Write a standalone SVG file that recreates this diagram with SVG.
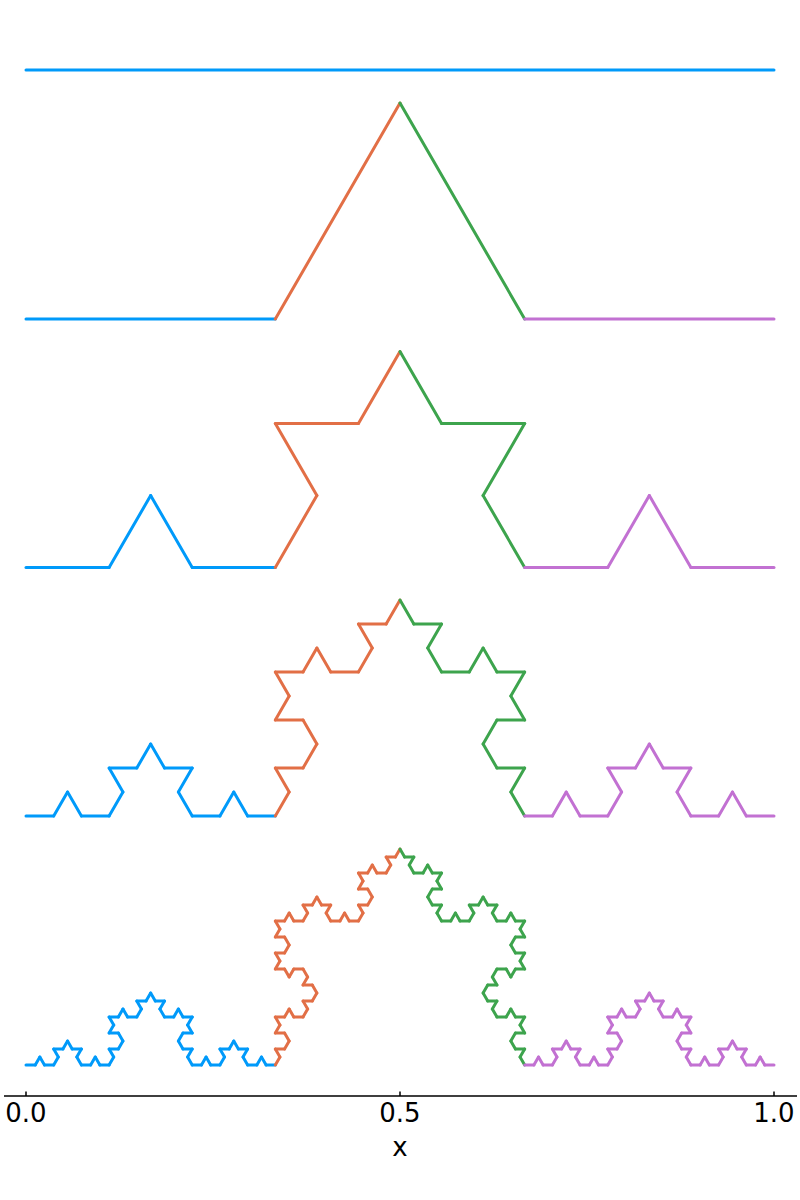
<svg xmlns="http://www.w3.org/2000/svg" xmlns:xlink="http://www.w3.org/1999/xlink" width="800" height="1200" viewBox="0 0 800 1200">
<style>
.k{fill:none;stroke-width:3;stroke-linecap:round;stroke-linejoin:round}
.b{stroke:#009AFA}.o{stroke:#E26F46}.g{stroke:#3DA44D}.p{stroke:#C271D2}
.axis{stroke:#000;stroke-width:1.5;fill:none}
text{font-family:"DejaVu Sans","Liberation Sans",sans-serif;fill:#000}
</style>
<defs>
<g id="k0"><path d="M0 0 L748 0" fill="none" vector-effect="non-scaling-stroke"/></g>
<g id="k1">
<use xlink:href="#k0" href="#k0" transform="scale(0.333333)"/>
<use xlink:href="#k0" href="#k0" transform="translate(249.3333,0) rotate(-60) scale(0.333333)"/>
<use xlink:href="#k0" href="#k0" transform="translate(374,-215.929) rotate(60) scale(0.333333)"/>
<use xlink:href="#k0" href="#k0" transform="translate(498.6667,0) scale(0.333333)"/>
</g>
<g id="k2">
<use href="#k1" transform="scale(0.333333)"/>
<use href="#k1" transform="translate(249.3333,0) rotate(-60) scale(0.333333)"/>
<use href="#k1" transform="translate(374,-215.929) rotate(60) scale(0.333333)"/>
<use href="#k1" transform="translate(498.6667,0) scale(0.333333)"/>
</g>
<g id="k3">
<use href="#k2" transform="scale(0.333333)"/>
<use href="#k2" transform="translate(249.3333,0) rotate(-60) scale(0.333333)"/>
<use href="#k2" transform="translate(374,-215.929) rotate(60) scale(0.333333)"/>
<use href="#k2" transform="translate(498.6667,0) scale(0.333333)"/>
</g>
</defs>
<g id="level0" class="k" transform="translate(26,70)">
<use href="#k0" class="b"/>
</g>
<g id="level1" class="k" transform="translate(26,319)">
<use href="#k0" class="b" transform="scale(0.333333)"/>
<use href="#k0" class="o" transform="translate(249.3333,0) rotate(-60) scale(0.333333)"/>
<use href="#k0" class="g" transform="translate(374,-215.929) rotate(60) scale(0.333333)"/>
<use href="#k0" class="p" transform="translate(498.6667,0) scale(0.333333)"/>
</g>
<g id="level2" class="k" transform="translate(26,567.5)">
<use href="#k1" class="b" transform="scale(0.333333)"/>
<use href="#k1" class="o" transform="translate(249.3333,0) rotate(-60) scale(0.333333)"/>
<use href="#k1" class="g" transform="translate(374,-215.929) rotate(60) scale(0.333333)"/>
<use href="#k1" class="p" transform="translate(498.6667,0) scale(0.333333)"/>
</g>
<g id="level3" class="k" transform="translate(26,816)">
<use href="#k2" class="b" transform="scale(0.333333)"/>
<use href="#k2" class="o" transform="translate(249.3333,0) rotate(-60) scale(0.333333)"/>
<use href="#k2" class="g" transform="translate(374,-215.929) rotate(60) scale(0.333333)"/>
<use href="#k2" class="p" transform="translate(498.6667,0) scale(0.333333)"/>
</g>
<g id="level4" class="k" transform="translate(26,1065)">
<use href="#k3" class="b" transform="scale(0.333333)"/>
<use href="#k3" class="o" transform="translate(249.3333,0) rotate(-60) scale(0.333333)"/>
<use href="#k3" class="g" transform="translate(374,-215.929) rotate(60) scale(0.333333)"/>
<use href="#k3" class="p" transform="translate(498.6667,0) scale(0.333333)"/>
</g>
<g id="xaxis">
<path class="axis" d="M4 1096 H797 M26 1096 V1091.5 M400 1096 V1091.5 M774 1096 V1091.5"/>
<text x="26" y="1122" font-size="26" text-anchor="middle">0.0</text>
<text x="400" y="1122" font-size="26" text-anchor="middle">0.5</text>
<text x="774" y="1122" font-size="26" text-anchor="middle">1.0</text>
<text x="400" y="1156" font-size="26" text-anchor="middle">x</text>
</g>
</svg>
